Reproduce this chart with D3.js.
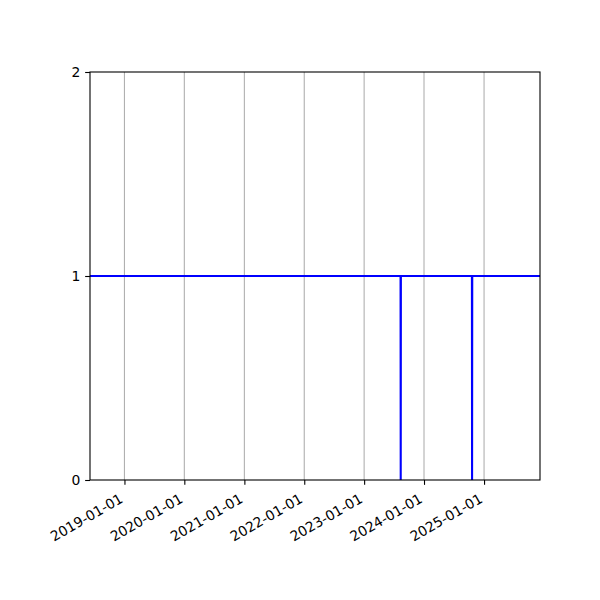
<!DOCTYPE html>
<html><head><meta charset="utf-8">
<script src="https://cdn.jsdelivr.net/npm/d3@7"></script>
<style>body{margin:0;background:#fff}svg{display:block}</style>
</head><body>
<script>
const dates = ["2018-06-05","2023-08-11","2023-08-12","2023-08-13","2024-10-19","2024-10-20","2024-10-21","2025-12-08"];
const values = [1,1,0,1,1,0,1,1];
const xTickLabels = ["2019-01-01","2020-01-01","2021-01-01","2022-01-01","2023-01-01","2024-01-01","2025-01-01"];
const yTicks = [0,1,2];

const parse = d3.utcParse("%Y-%m-%d");
const data = dates.map((d,i)=>({date:parse(d), v:values[i]}));
const W=600,H=600, m={l:90,r:60,t:72,b:120};
const svg = d3.select("body").append("svg").attr("width",W).attr("height",H);
const x = d3.scaleUtc().domain([data[0].date, data[data.length-1].date]).range([m.l, W-m.r]);
const y = d3.scaleLinear().domain([0,2]).range([H-m.b, m.t]);
const font = "DejaVu Sans, sans-serif";

// grid
svg.append("g").selectAll("line").data(xTickLabels).join("line")
  .attr("x1",d=>x(parse(d))).attr("x2",d=>x(parse(d)))
  .attr("y1",m.t).attr("y2",H-m.b).attr("stroke","#b0b0b0").attr("stroke-width",1.1);

// line
svg.append("path").datum(data)
  .attr("d", d3.line().x(d=>x(d.date)).y(d=>y(d.v)))
  .attr("fill","none").attr("stroke","#0000ff").attr("stroke-width",2.08);

// frame
svg.append("rect").attr("x",m.l).attr("y",m.t).attr("width",W-m.l-m.r).attr("height",H-m.t-m.b)
  .attr("fill","none").attr("stroke","#000").attr("stroke-width",1.1);

// x axis
const xa = svg.append("g").attr("transform",`translate(0,${H-m.b})`)
  .call(d3.axisBottom(x).tickValues(xTickLabels.map(parse)).tickSize(4.86).tickPadding(5).tickFormat(d3.utcFormat("%Y-%m-%d")));
xa.select(".domain").remove();
xa.selectAll("line").attr("stroke","#000").attr("stroke-width",1.1);
xa.selectAll("text").attr("font-family",font).attr("font-size","13.9px").attr("fill","#000")
  .attr("text-anchor","end").attr("dy",null).attr("y",0).attr("x",0)
  .attr("transform","translate(-1,21.5) rotate(-30)");

// y axis
const ya = svg.append("g").attr("transform",`translate(${m.l},0)`)
  .call(d3.axisLeft(y).tickValues(yTicks).tickSize(4.86).tickPadding(4.86).tickFormat(d3.format("d")));
ya.select(".domain").remove();
ya.selectAll("line").attr("stroke","#000").attr("stroke-width",1.1);
ya.selectAll("text").attr("font-family",font).attr("font-size","13.9px").attr("fill","#000");
</script>
</body></html>
